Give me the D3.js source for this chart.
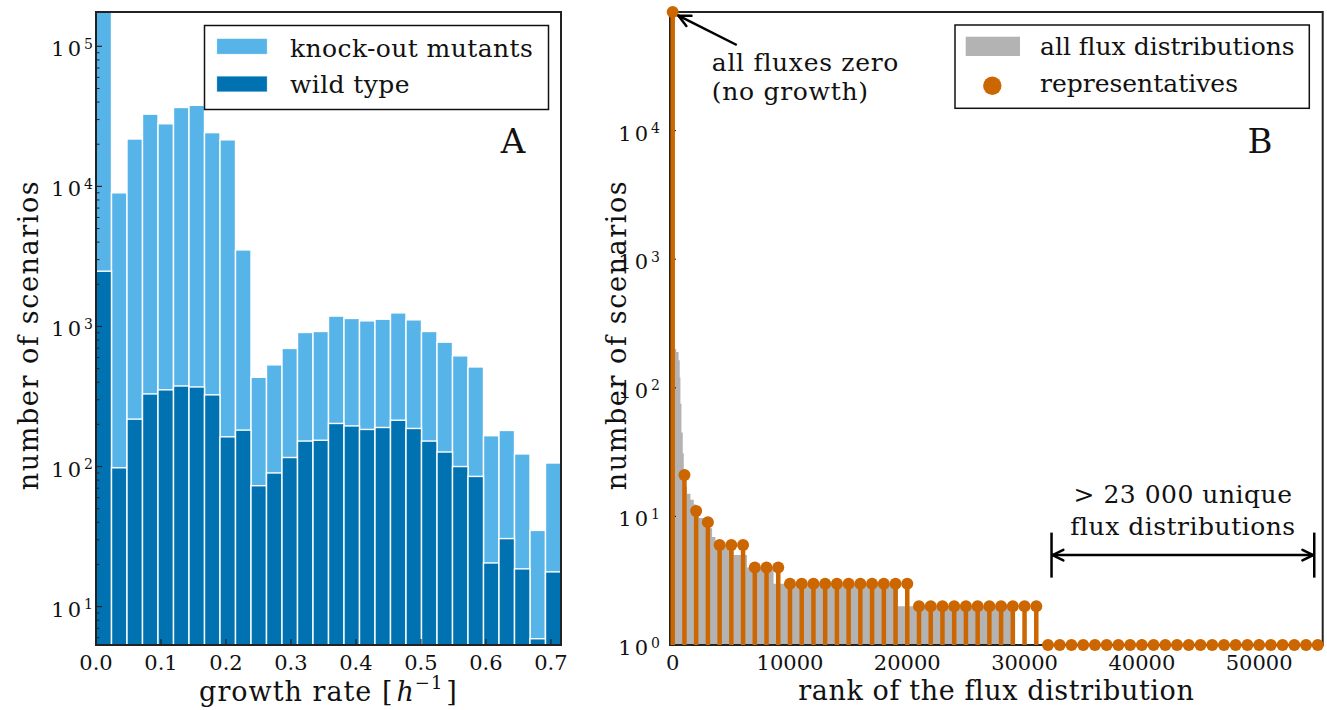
<!DOCTYPE html>
<html><head><meta charset="utf-8">
<script src="https://cdn.jsdelivr.net/npm/d3@7"></script>
<style>
body{margin:0;background:#fff;}
svg{display:block;font-family:"DejaVu Serif",serif;}
</style></head><body>
<svg id="c" width="1327" height="710"></svg>
<script>
// ---------- Panel A data ----------
const growthMax = 0.7155;
const nBins = 30;
const knockoutCounts = [210000, 9000, 21800, 32800, 28000, 36600, 37900, 24200, 21500, 3520,
  434, 532, 697, 906, 921, 1186, 1141, 1097, 1127, 1250,
  1115, 921, 773, 617, 514, 166, 181, 123, 35, 106];
const wildTypeCounts = [2480, 98, 218, 330, 353, 376, 370, 325, 163, 182,
  73, 90, 116, 152, 154, 203, 195, 184, 190, 214,
  187, 152, 127, 100, 85, 20.5, 30.6, 18.6, 5.9, 17.7];
const growthTicks = [0, 0.1, 0.2, 0.3, 0.4, 0.5, 0.6, 0.7];
const countExpA = [1, 2, 3, 4, 5];
const legendA = ["knock-out mutants", "wild type"];

// ---------- Panel B data ----------
const repRanks = [0,1000,2000,3000,4000,5000,6000,7000,8000,9000,10000,11000,12000,13000,14000,15000,
  16000,17000,18000,19000,20000,21000,22000,23000,24000,25000,26000,27000,28000,29000,30000,31000,
  32000,33000,34000,35000,36000,37000,38000,39000,40000,41000,42000,43000,44000,45000,46000,47000,
  48000,49000,50000,51000,52000,53000,54000,55000];
const repCounts = [83600,21,11,9,6,6,6,4,4,4,3,3,3,3,3,3,
  3,3,3,3,3,2,2,2,2,2,2,2,2,2,2,2,
  1,1,1,1,1,1,1,1,1,1,1,1,1,1,1,1,
  1,1,1,1,1,1,1,1];
const allRanks = [0, 300, 500, 600, 660, 745, 858, 943, 1080, 1222, 1512, 1796, 2000, 2222, 2650, 2790,
  3359, 3643, 5200, 6330, 8600, 19200, 29000, 55420];
const allCounts = [200, 190, 164, 120, 75, 45, 31, 22, 17, 15, 13.5, 12.4, 10.5, 9.7, 8.8, 8.1,
  6.9, 6, 5, 4, 3, 2, 1, 1];
const rankTicks = [0, 10000, 20000, 30000, 40000, 50000];
const countExpB = [0, 1, 2, 3, 4];
const legendB = ["all flux distributions", "representatives"];

// ---------- styles ----------
const LIGHT = "#56B4E9", DARK = "#0072B2", ORANGE = "#CC6600", GREY = "#B3B3B3", INK = "#111";

const svg = d3.select("#c");

function logTicks(scale, withMinor) {
  const [lo, hi] = scale.domain();
  const major = [], minor = [];
  for (let e = Math.floor(Math.log10(lo)); e <= Math.ceil(Math.log10(hi)); e++) {
    for (let k = 1; k <= 9; k++) {
      const v = k * Math.pow(10, e);
      if (v < lo * 0.999 || v > hi * 1.001) continue;
      (k === 1 ? major : minor).push(v);
    }
  }
  return {major, minor};
}

function drawPanel(P, xS, yS, xTicks, xFmt, yExp, ylabOffset, ytickGap, ylabel, xlabelFn) {
  const g = svg.append("g");
  g.append("rect").attr("x", P.left).attr("y", P.top)
    .attr("width", P.right - P.left).attr("height", P.bottom - P.top)
    .attr("fill", "none").attr("stroke", "#222").attr("stroke-width", 2);
  // x ticks (inward)
  g.selectAll("line.xt").data(xTicks).join("line")
    .attr("x1", d => xS(d)).attr("x2", d => xS(d))
    .attr("y1", P.bottom).attr("y2", P.bottom - 6)
    .attr("stroke", "#222").attr("stroke-width", 1.2);
  g.selectAll("text.xt").data(xTicks).join("text")
    .attr("x", d => xS(d)).attr("y", P.bottom + 24.5)
    .attr("text-anchor", "middle").attr("font-size", 21).attr("fill", INK)
    .text(xFmt);
  // y ticks
  const lt = logTicks(yS);
  g.selectAll("line.ymaj").data(lt.major).join("line")
    .attr("x1", P.left).attr("x2", P.left + 6)
    .attr("y1", d => yS(d)).attr("y2", d => yS(d))
    .attr("stroke", "#222").attr("stroke-width", 1.2);
  g.selectAll("line.ymin").data(lt.minor).join("line")
    .attr("x1", P.left).attr("x2", P.left + 3.5)
    .attr("y1", d => yS(d)).attr("y2", d => yS(d))
    .attr("stroke", "#222").attr("stroke-width", 1);
  yExp.forEach(e => {
    const t = g.append("text")
      .attr("x", P.left - ytickGap).attr("y", yS(Math.pow(10, e)) + 10)
      .attr("text-anchor", "end").attr("fill", INK).attr("font-size", 21);
    t.append("tspan").attr("letter-spacing", 3).text("10");
    t.append("tspan").attr("font-size", 14).attr("dy", -7.5).text(e);
  });
  // y label
  g.append("text")
    .attr("transform", `translate(${P.left - ylabOffset},${335}) rotate(-90)`)
    .attr("text-anchor", "middle").attr("font-size", 27).attr("fill", INK)
    .attr("letter-spacing", 1.6).text(ylabel);
  xlabelFn(g);
  return g;
}

// ================= Panel A =================
const PA = {left: 96, right: 561, top: 12, bottom: 645};
const xA = d3.scaleLinear().domain([0, growthMax]).range([PA.left, PA.right]);
const yA = d3.scaleLog().domain([5.32, 175800]).range([PA.bottom, PA.top]);
const binW = growthMax / nBins;

svg.append("clipPath").attr("id", "clipA").append("rect")
  .attr("x", PA.left).attr("y", PA.top).attr("width", PA.right - PA.left).attr("height", PA.bottom - PA.top);
const barsA = svg.append("g").attr("clip-path", "url(#clipA)");
function bars(data, color, cls) {
  barsA.selectAll("rect." + cls).data(data).join("rect").attr("class", cls)
    .attr("x", (d, i) => xA(i * binW))
    .attr("width", (d, i) => xA((i + 1) * binW) - xA(i * binW))
    .attr("y", d => yA(d))
    .attr("height", d => PA.bottom + 20 - yA(d))
    .attr("fill", color).attr("stroke", "#fff").attr("stroke-width", 1.4);
}
bars(knockoutCounts, LIGHT, "ko");
bars(wildTypeCounts, DARK, "wt");

drawPanel(PA, xA, yA, growthTicks, d3.format(".1f"), countExpA, 58, 3, "number of scenarios", g => {
  const t = g.append("text").attr("x", (PA.left + PA.right) / 2).attr("y", 701)
    .attr("text-anchor", "middle").attr("font-size", 27).attr("fill", INK).attr("letter-spacing", 1);
  t.append("tspan").text("growth rate [");
  t.append("tspan").attr("font-style", "italic").attr("dx", 3).text("h");
  t.append("tspan").attr("font-size", 18).attr("dy", -12).text("\u22121");
  t.append("tspan").attr("dy", 12).attr("dx", 3).text("]");
});

// legend A
const legA = svg.append("g");
legA.append("rect").attr("x", 204.5).attr("y", 25.5).attr("width", 344).attr("height", 84)
  .attr("fill", "#fff").attr("stroke", "#111").attr("stroke-width", 1.5);
[LIGHT, DARK].forEach((c, i) => {
  legA.append("rect").attr("x", 216.7).attr("y", 38.3 + i * 37.7).attr("width", 50.6).attr("height", 16)
    .attr("fill", c).attr("stroke", "#fff").attr("stroke-width", 0.8);
  legA.append("text").attr("x", 290).attr("y", 56.7 + i * 36.6).attr("font-size", 25)
    .attr("letter-spacing", 0.4).attr("fill", INK).text(legendA[i]);
});
svg.append("text").attr("x", 513).attr("y", 153).attr("text-anchor", "middle")
  .attr("font-size", 34).attr("fill", INK).text("A");

// ================= Panel B =================
const PB = {left: 670, right: 1322.7, top: 12, bottom: 645};
const xB = d3.scaleLinear().domain([-230, 55420]).range([PB.left, PB.right]);
const yB = d3.scaleLog().domain([1, 83600]).range([PB.bottom, PB.top]);

svg.append("clipPath").attr("id", "clipB").append("rect")
  .attr("x", PB.left).attr("y", PB.top).attr("width", PB.right - PB.left).attr("height", PB.bottom - PB.top);
const allData = allRanks.map((r, i) => [r, allCounts[i]]);
svg.append("path").datum(allData).attr("clip-path", "url(#clipB)")
  .attr("d", d3.area().x(d => xB(d[0])).y0(PB.bottom).y1(d => yB(d[1])).curve(d3.curveStepAfter))
  .attr("fill", GREY);

drawPanel(PB, xB, yB, rankTicks, d3.format("d"), countExpB, 44, 10, "number of scenarios", g => {
  g.append("text").attr("x", (PB.left + PB.right) / 2).attr("y", 700)
    .attr("text-anchor", "middle").attr("font-size", 27).attr("fill", INK)
    .attr("letter-spacing", 0.6).text("rank of the flux distribution");
});

const reps = repRanks.map((r, i) => [r, repCounts[i]]);
svg.append("g").selectAll("line").data(reps).join("line")
  .attr("x1", d => xB(d[0])).attr("x2", d => xB(d[0]))
  .attr("y1", yB(1)).attr("y2", d => yB(d[1]))
  .attr("stroke", ORANGE).attr("stroke-width", 4.5);
svg.append("g").selectAll("circle").data(reps).join("circle")
  .attr("cx", d => xB(d[0])).attr("cy", d => yB(d[1])).attr("r", 6)
  .attr("fill", ORANGE);

// annotations B
function arrowHead(g, x, y, ang, len, spread) {
  [-spread, spread].forEach(s => {
    g.append("line").attr("x1", x).attr("y1", y)
      .attr("x2", x + len * Math.cos(ang + s)).attr("y2", y + len * Math.sin(ang + s))
      .attr("stroke", "#000").attr("stroke-width", 2.5).attr("stroke-linecap", "round");
  });
}
const ann = svg.append("g");
const headP = [xB(490), yB(78300)], tailP = [xB(5460), yB(46300)];
ann.append("line").attr("x1", tailP[0]).attr("y1", tailP[1]).attr("x2", headP[0]).attr("y2", headP[1])
  .attr("stroke", "#000").attr("stroke-width", 2.5);
arrowHead(ann, headP[0], headP[1], Math.atan2(tailP[1] - headP[1], tailP[0] - headP[0]), 13, 0.45);
const t1 = ann.append("text").attr("x", xB(3333)).attr("y", yB(29200))
  .attr("font-size", 25).attr("letter-spacing", 0.7).attr("fill", INK);
t1.append("tspan").text("all fluxes zero");
t1.append("tspan").attr("x", xB(3333)).attr("dy", 29.5).text("(no growth)");

const spanLo = xB(32300), spanHi = xB(54700), spanY = yB(5);
ann.append("line").attr("x1", spanLo).attr("x2", spanHi).attr("y1", spanY).attr("y2", spanY)
  .attr("stroke", "#000").attr("stroke-width", 2.5);
arrowHead(ann, spanLo + 1, spanY, 0, 12, 0.45);
arrowHead(ann, spanHi - 1, spanY, Math.PI, 12, 0.45);
[spanLo, spanHi].forEach(x => ann.append("line").attr("x1", x).attr("x2", x)
  .attr("y1", spanY - 22.5).attr("y2", spanY + 22.5).attr("stroke", "#000").attr("stroke-width", 2.5));
const t2 = ann.append("text").attr("x", xB(43510)).attr("y", yB(12.6))
  .attr("text-anchor", "middle").attr("font-size", 25).attr("letter-spacing", 0.5).attr("fill", INK);
t2.append("tspan").text("> 23 000 unique");
t2.append("tspan").attr("x", xB(43510)).attr("dy", 31.7).text("flux distributions");

// legend B
const legB = svg.append("g");
legB.append("rect").attr("x", 955).attr("y", 25).attr("width", 354.3).attr("height", 83.3)
  .attr("fill", "#fff").attr("stroke", "#111").attr("stroke-width", 1.5);
legB.append("rect").attr("x", 965.7).attr("y", 36.7).attr("width", 54.3).attr("height", 19.3).attr("fill", GREY);
legB.append("circle").attr("cx", 992.3).attr("cy", 85.7).attr("r", 9.2).attr("fill", ORANGE);
legendB.forEach((s, i) => legB.append("text").attr("x", 1040).attr("y", 55 + i * 36.7)
  .attr("font-size", 25).attr("fill", INK).text(s));
svg.append("text").attr("x", 1260).attr("y", 153).attr("text-anchor", "middle")
  .attr("font-size", 34).attr("fill", INK).text("B");
</script>
</body></html>
